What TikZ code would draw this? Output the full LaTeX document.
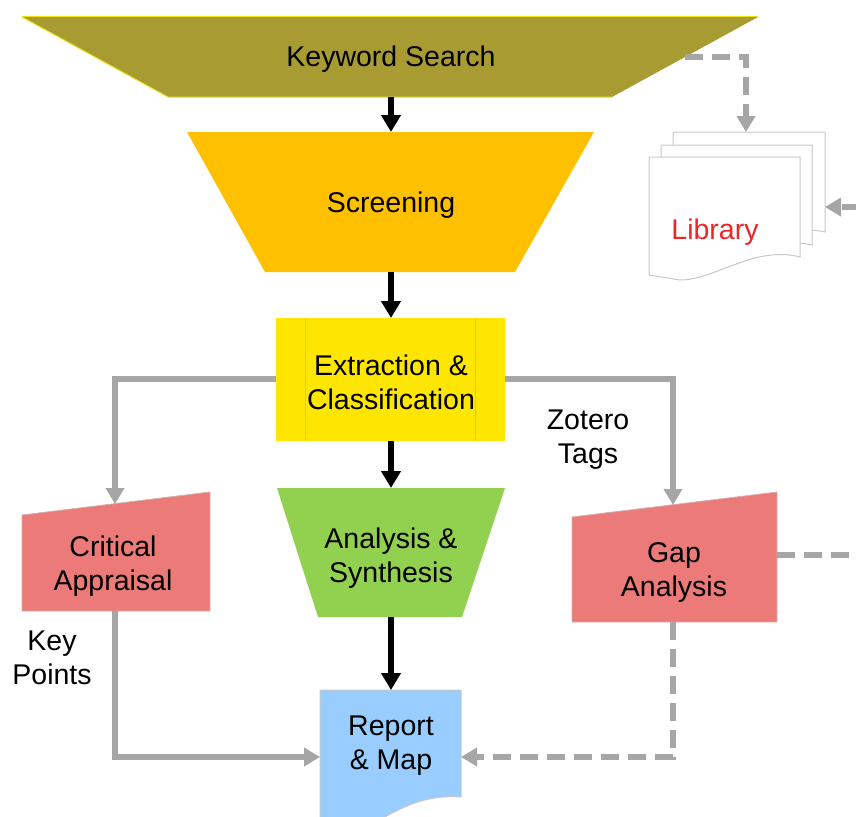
\documentclass[tikz,border=0pt]{standalone}
\usepackage{fontspec}
\setmainfont{Liberation Sans}
\usetikzlibrary{arrows.meta}
\definecolor{cKey}{RGB}{168,155,50}
\definecolor{cKeyB}{RGB}{240,225,20}
\definecolor{cScr}{RGB}{255,192,0}
\definecolor{cExt}{RGB}{255,230,0}
\definecolor{cExtL}{RGB}{245,190,40}
\definecolor{cAna}{RGB}{146,208,80}
\definecolor{cRed}{RGB}{236,122,120}
\definecolor{cRep}{RGB}{153,204,255}
\definecolor{cGray}{RGB}{166,166,166}
\definecolor{cBord}{RGB}{200,200,200}
\definecolor{cLib}{RGB}{230,40,40}
\begin{document}
\begin{tikzpicture}[x=1pt,y=-1pt,
  font=\fontsize{28.5}{34}\selectfont,
  lbl/.style={align=center, inner sep=0pt},
  blk/.style={draw=black, line width=5.5pt, -{Triangle[width=19pt,length=17pt]}},
  gry/.style={draw=cGray, line width=5.5pt, -{Triangle[width=18pt,length=16pt]}},
  dsh/.style={gry, dash pattern=on 18pt off 9pt},
  doc/.style={fill=white, draw=cBord, line width=1pt}]
\useasboundingbox (0,0) rectangle (856,816);
\clip (0,0) rectangle (856,816);

% Keyword Search
\fill[cKey] (22,17) -- (758,17) -- (612,97) -- (168,97) -- cycle;
\draw[cKeyB, line width=1pt] (22,17) -- (758,17);
\draw[cKeyB, line width=1pt] (22,17) -- (168,97) -- (612,97);
\node[lbl] (ks) at (391,59) {Keyword Search};
\coordinate (ks-bot) at (391,97);
\coordinate (ks-r) at (685,57);

% Screening
\fill[cScr] (187,132) -- (594,132) -- (515,272) -- (265,272) -- cycle;
\node[lbl] (scr) at (391,205) {Screening};
\coordinate (scr-top) at (391,132);
\coordinate (scr-bot) at (391,272);

% Extraction
\fill[cExt] (276,318) rectangle (505,441);
\draw[cExtL, line width=0.6pt] (305,318) -- (305,441) (475,318) -- (475,441);
\node[lbl] (ext) at (391,382) {Extraction \&\\Classification};
\coordinate (ext-top) at (391,318);
\coordinate (ext-bot) at (391,441);
\coordinate (ext-l) at (276,379);
\coordinate (ext-r) at (505,379);

% Analysis
\fill[cAna] (277,488) -- (505,488) -- (462,617) -- (318,617) -- cycle;
\node[lbl] (ana) at (391,558) {Analysis \&\\Synthesis};
\coordinate (ana-top) at (391,488);
\coordinate (ana-bot) at (391,617);

% Report & Map
\filldraw[fill=cRep, draw=cBord, line width=1pt] (320,690) -- (461,690) -- (461,797)
  .. controls (420,794) and (395,812) .. (370,825) -- (320,830) -- cycle;
\node[lbl] (rep) at (391,746) {Report\\\& Map};
\coordinate (rep-top) at (391,690);
\coordinate (rep-l) at (320,757);
\coordinate (rep-r) at (461,757);

% Critical Appraisal
\filldraw[fill=cRed, draw=cBord!70!cRed, line width=0.8pt] (22,515) -- (210,492) -- (210,611) -- (22,611) -- cycle;
\node[lbl] (ca) at (113,566) {Critical\\Appraisal};
\coordinate (ca-top) at (115,504);
\coordinate (ca-bot) at (115,611);

% Gap Analysis
\filldraw[fill=cRed, draw=cBord!70!cRed, line width=0.8pt] (572,517) -- (777,492) -- (777,622) -- (572,622) -- cycle;
\node[lbl] (gap) at (674,572) {Gap\\Analysis};
\coordinate (gap-top) at (673,505);
\coordinate (gap-bot) at (673,622);
\coordinate (gap-r) at (777,555);
\coordinate (gap-out) at (860,555);

% Library (stacked documents)
\draw[doc] (673,132) -- (825,132) -- (825,232) .. controls (780,222) and (740,250) .. (700,250) -- (673,248) -- cycle;
\draw[doc] (661,145) -- (812,145) -- (812,245) .. controls (767,235) and (727,263) .. (690,263) -- (661,260) -- cycle;
\draw[doc] (649,157) -- (800,157) -- (800,257) .. controls (755,245) and (715,280) .. (680,280) -- (649,275) -- cycle;
\node[lbl, text=cLib] (lib) at (715,232) {Library};
\coordinate (lib-top) at (746,132);
\coordinate (lib-r) at (825,207);
\coordinate (lib-in) at (860,207);

% Labels
\node[lbl] (zt) at (588,440) {Zotero\\Tags};
\node[lbl] (kp) at (52,658) {Key\\Points};

% Main flow
\draw[blk] (ks-bot) -- (scr-top);
\draw[blk] (scr-bot) -- (ext-top);
\draw[blk] (ext-bot) -- (ana-top);
\draw[blk] (ana-bot) -- (rep-top);

% Side flows
\draw[gry] (ext-l) -| (ca-top);
\draw[gry] (ext-r) -| (gap-top);
\draw[gry] (ca-bot) |- (rep-l);
\draw[dsh] (gap-bot) |- (rep-r);
\draw[dsh] (ks-r) -| (lib-top);
\draw[dsh] (lib-in) -- (lib-r);
\draw[dsh, -] (gap-r) -- (gap-out);
\end{tikzpicture}
\end{document}
